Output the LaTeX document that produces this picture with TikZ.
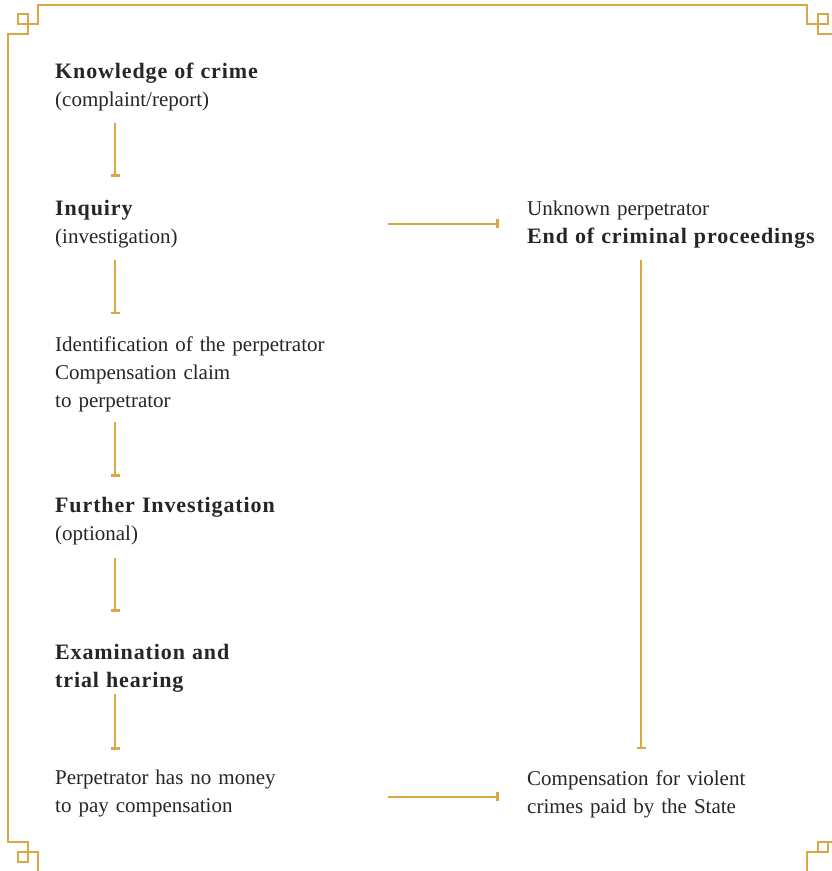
\documentclass[tikz,border=0pt]{standalone}
\usepackage{fontspec}
\setmainfont{Liberation Serif}[BoldFeatures={LetterSpace=4}]
\usetikzlibrary{arrows.meta, positioning}
\definecolor{gold}{RGB}{219, 167, 68}
\definecolor{inktext}{RGB}{38, 38, 38}
\newcommand{\stagehead}[1]{{\fontsize{22}{28}\selectfont\bfseries #1}}
\tikzset{
  stage/.style={anchor=base west, inner sep=0pt, text width=300pt, align=left, text=inktext, font=\fontsize{21}{28}\selectfont},
  outcome/.style={stage, text width=300pt},
  link/.style={draw=gold, line width=2pt, -{Bar[width=9pt, line width=2.6pt]}},
  fret/.style={draw=gold, line width=2.5pt}
}

\begin{document}
\begin{tikzpicture}[x=1pt, y=-1pt]
  \useasboundingbox (0,0) rectangle (831,871);

  % Ornamental frame
  \draw[fret] (38,880) -- (38,852) -- (18,852) -- (18,862) -- (28,862) -- (28,842) -- (8,842)
    -- (8,34) -- (28,34) -- (28,14) -- (18,14) -- (18,24) -- (38,24) -- (38,5)
    -- (807,5) -- (807,24) -- (828,24) -- (828,14) -- (818,14) -- (818,34) -- (840,34);
  \draw[fret] (807,880) -- (807,852) -- (828,852) -- (828,842) -- (818,842) -- (818,852);
  \draw[fret] (818,842) -- (840,842);

  % Main procedure
  \node[stage] (know) at (55,78) {\stagehead{Knowledge of crime}\\(complaint/report)};
  \node[stage] (inq) at (55,215) {\stagehead{Inquiry}\\(investigation)};
  \node[stage] (ident) at (55,351) {Identification of the perpetrator\\Compensation claim\\to perpetrator};
  \node[stage] (furth) at (55,512) {\stagehead{Further Investigation}\\(optional)};
  \node[stage] (exam) at (55,659) {\stagehead{Examination and}\\\stagehead{trial hearing}};
  \node[stage] (nomoney) at (55,784) {Perpetrator has no money\\to pay compensation};

  % Outcomes
  \node[outcome] (unknown) at (527,215) {Unknown perpetrator\\\stagehead{End of criminal proceedings}};
  \node[outcome] (state) at (527,785) {Compensation for violent\\crimes paid by the State};

  % Links
  \draw[link, shorten <=12.4pt, shorten >=22.7pt] ([xshift=60pt]know.south west) -- ([xshift=60pt]inq.north west);
  \draw[link, shorten <=12.4pt, shorten >=21.7pt] ([xshift=60pt]inq.south west) -- ([xshift=60pt]ident.north west);
  \draw[link, shorten <=10.4pt, shorten >=19.7pt] ([xshift=60pt]ident.south west) -- ([xshift=60pt]furth.north west);
  \draw[link, shorten <=13.4pt, shorten >=31.7pt] ([xshift=60pt]furth.south west) -- ([xshift=60pt]exam.north west);
  \draw[link, shorten <=2.4pt, shorten >=19.7pt] ([xshift=60pt]exam.south west) -- ([xshift=60pt]nomoney.north west);
  \draw[link, shorten <=33pt, shorten >=28pt] (inq.east) -- (inq.east -| unknown.west);
  \draw[link, shorten <=33pt, shorten >=28pt] ([yshift=-4pt]nomoney.east) -- ([yshift=-4pt]nomoney.east -| state.west);
  \draw[link, shorten <=12.4pt, shorten >=20.7pt] ([xshift=114pt]unknown.south west) -- ([xshift=114pt]state.north west);
\end{tikzpicture}
\end{document}
